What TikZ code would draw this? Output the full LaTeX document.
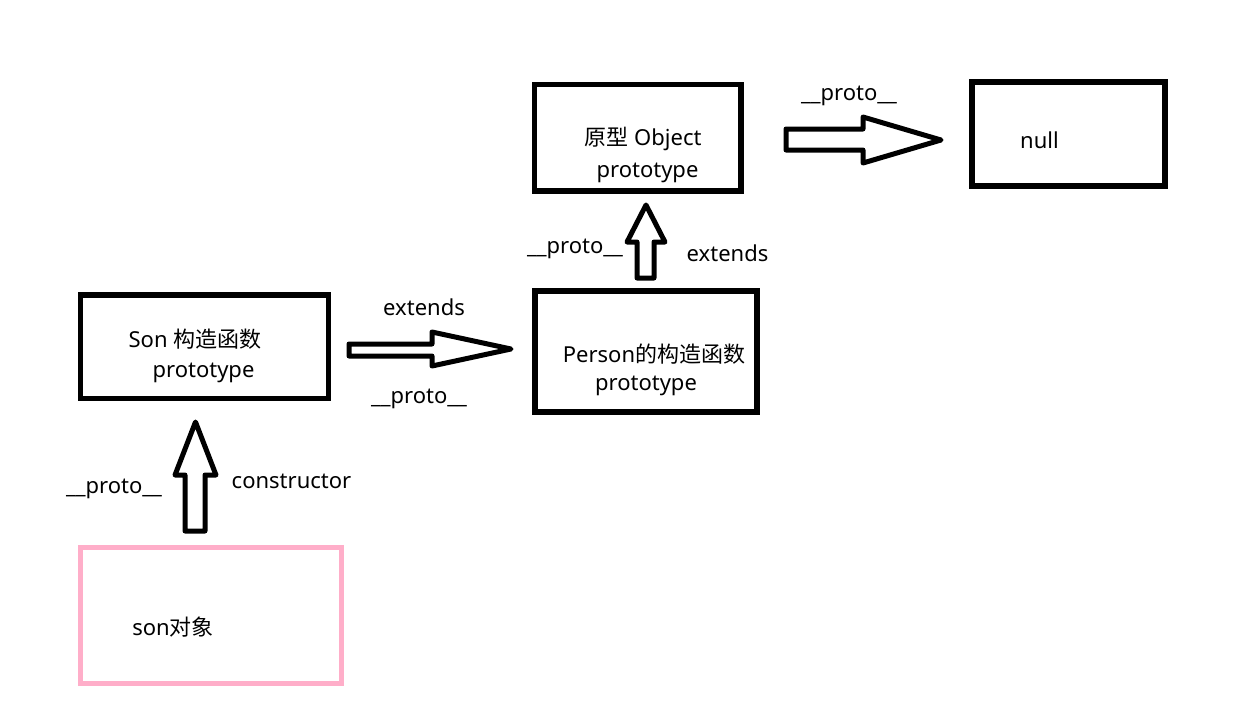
\documentclass[tikz,border=0pt]{standalone}
\usepackage{fontspec}
\setmainfont{Noto Sans}
\newfontfamily\cjk{Noto Sans CJK SC}
\definecolor{rose}{RGB}{255,174,201}
\begin{document}
\begin{tikzpicture}[x=1pt,y=-1pt,
  box/.style={draw=black, line width=5.5pt, inner sep=0pt, rectangle},
  pinkbox/.style={draw=rose, line width=5pt, inner sep=0pt, rectangle},
  lbl/.style={font=\fontsize{22}{26}\selectfont, inner sep=0pt, anchor=base},
  blockarrow/.style={draw=black, fill=white, line width=5pt, line join=round}]
\useasboundingbox (0,0) rectangle (1256,713);
\fill[white] (0,0) rectangle (1256,713);

% boxes
\node[box, minimum width=248pt, minimum height=103.5pt] (son) at (204.5,346.75) {};
\node[box, minimum width=222pt, minimum height=121pt] (person) at (646,351.5) {};
\node[box, minimum width=206.5pt, minimum height=106.5pt] (object) at (637.75,137.75) {};
\node[box, minimum width=193pt, minimum height=104pt] (null) at (1068.5,134) {};
\node[pinkbox, minimum width=261pt, minimum height=136pt] (sonobj) at (210.5,615) {};

% box texts
\node[lbl] (t1) at (195,347) {Son {\cjk 构造函数}};
\node[lbl] (t2) at (203.5,377) {prototype};
\node[lbl] (t3) at (654,362) {Person{\cjk 的构造函数}};
\node[lbl] (t4) at (646,390) {prototype};
\node[lbl] (t5) at (643,145) {{\cjk 原型} Object};
\node[lbl] (t6) at (647.5,177) {prototype};
\node[lbl] (t7) at (1039.5,148) {null};
\node[lbl] (t8) at (173,635) {son{\cjk 对象}};

% block arrows
\draw[blockarrow] (349,344) -- (432,344) -- (432,332) -- (511,349) -- (432,366) -- (432,356) -- (349,356) -- cycle;
\draw[blockarrow] (786,129) -- (863,129) -- (863,117) -- (941,140) -- (863,163) -- (863,150) -- (786,150) -- cycle;
\draw[blockarrow] (637,278) -- (637,242) -- (627,242) -- (646,205) -- (665,242) -- (654,242) -- (654,278) -- cycle;
\draw[blockarrow] (185,531) -- (185,475) -- (175,475) -- (195.5,422) -- (216,475) -- (205,475) -- (205,531) -- cycle;

% arrow labels
\node[lbl] (l1) at (424,315) {extends};
\node[lbl] (l2) at (419,403) {\_\_proto\_\_};
\node[lbl] (l3) at (849,100) {\_\_proto\_\_};
\node[lbl] (l4) at (575,253) {\_\_proto\_\_};
\node[lbl] (l5) at (727.5,261) {extends};
\node[lbl] (l6) at (114,493) {\_\_proto\_\_};
\node[lbl] (l7) at (291.5,488) {constructor};
\end{tikzpicture}
\end{document}
